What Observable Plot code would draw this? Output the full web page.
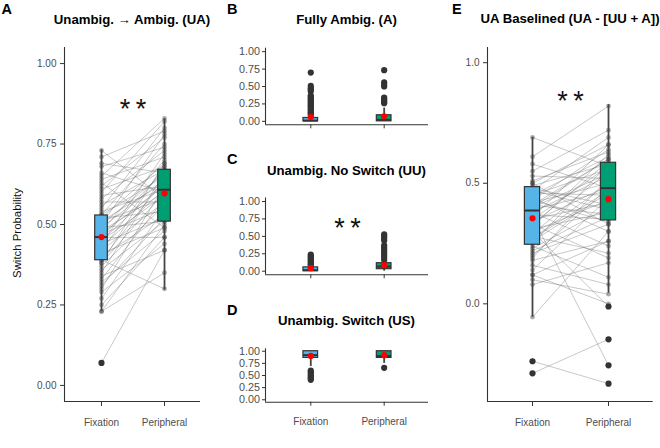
<!DOCTYPE html>
<html><head><meta charset="utf-8">
<script src="https://cdn.jsdelivr.net/npm/d3@7"></script>
<script src="https://cdn.jsdelivr.net/npm/@observablehq/plot@0.6"></script>
<style>
body{margin:0;background:#fff;font-family:"Liberation Sans",Arial,sans-serif;}
#root{position:relative;width:660px;height:448px;overflow:hidden;background:#fff;}
#root > svg, #root > .pnl{position:absolute;}
</style></head><body><div id="root"></div>
<script>
const categories = ["Fixation", "Peripheral"];
const fillColors = ["#56B4E9", "#009E73"];

// Panel A: paired switch probabilities (UA)
const uaFixation = [0.07,0.23,0.23,0.25,0.27,0.29,0.30,0.31,0.32,0.33,0.34,0.35,0.36,0.37,0.38,0.39,0.39,0.40,0.41,0.42,0.42,0.43,0.44,0.44,0.45,0.45,0.46,0.46,0.47,0.47,0.48,0.48,0.49,0.49,0.50,0.50,0.51,0.51,0.52,0.52,0.53,0.53,0.54,0.55,0.56,0.57,0.58,0.59,0.60,0.61,0.62,0.63,0.64,0.65,0.66,0.68,0.69,0.71,0.73,0.38];
const uaPeripheral = [0.42,0.35,0.50,0.46,0.55,0.44,0.62,0.52,0.48,0.58,0.42,0.66,0.51,0.56,0.60,0.30,0.64,0.53,0.49,0.68,0.57,0.61,0.72,0.52,0.63,0.59,0.46,0.67,0.62,0.55,0.70,0.60,0.64,0.51,0.66,0.78,0.58,0.63,0.69,0.54,0.65,0.75,0.61,0.80,0.67,0.57,0.73,0.62,0.82,0.68,0.77,0.49,0.71,0.83,0.60,0.74,0.66,0.79,0.58,0.69];

// Panel E: paired baselined values
const baseFixation = [-0.288,-0.238,0.36,0.30,0.12,-0.055,0.08,0.10,0.12,0.14,0.16,0.19,0.21,0.23,0.24,0.25,0.26,0.28,0.29,0.31,0.32,0.33,0.34,0.35,0.36,0.37,0.38,0.38,0.39,0.40,0.41,0.42,0.43,0.44,0.45,0.46,0.47,0.48,0.49,0.50,0.51,0.53,0.55,0.58,0.61,0.69,0.22,0.27,0.30,0.18,0.45,0.40,0.33,0.50,0.27,0.43,0.35,0.47,0.20,0.41];
const basePeripheral = [-0.147,-0.331,-0.255,-0.011,0.00,0.30,0.17,0.04,0.26,0.44,0.08,0.52,0.33,0.40,0.11,0.58,0.46,0.21,0.55,0.38,0.62,0.19,0.49,0.42,0.66,0.35,0.53,0.24,0.47,0.60,0.37,0.50,0.64,0.30,0.56,0.45,0.69,0.41,0.58,0.33,0.63,0.52,0.72,0.48,0.82,0.57,0.36,0.50,0.43,0.26,0.61,0.54,0.59,0.66,0.47,0.34,0.57,0.39,0.48,0.60];

// Box statistics [Fixation, Peripheral]
const statsA = [{q1:0.389,med:0.461,q3:0.528,lo:0.23,hi:0.732,mean:0.461},{q1:0.509,med:0.608,q3:0.67,lo:0.296,hi:0.829,mean:0.597}];
const statsB = [{q1:0.0,med:0.01,q3:0.048,lo:0.0,hi:0.07,mean:0.062},{q1:0.0,med:0.02,q3:0.087,lo:0.0,hi:0.19,mean:0.073}];
const statsC = [{q1:0.0,med:0.015,q3:0.055,lo:0.0,hi:0.06,mean:0.043},{q1:0.029,med:0.067,q3:0.115,lo:0.0,hi:0.15,mean:0.086}];
const statsD = [{q1:0.863,med:0.92,q3:1.0,lo:0.685,hi:1.0,mean:0.904},{q1:0.863,med:0.90,q3:1.0,lo:0.75,hi:1.0,mean:0.918}];
const statsE = [{q1:0.245,med:0.387,q3:0.484,lo:-0.055,hi:0.691,mean:0.355},{q1:0.346,med:0.48,q3:0.585,lo:0.044,hi:0.826,mean:0.434}];

// Outliers [Fixation], [Peripheral]
const outA = [[0.07],[]];
const outB = [[0.70,0.51,0.48,0.46,0.43,0.37,0.35,0.33,0.31,0.29,0.27,0.25,0.23,0.21,0.19,0.17,0.15,0.13,0.11,0.09],[0.735,0.56,0.53,0.50,0.34,0.32,0.30,0.28,0.26]];
const outC = [[0.24,0.22,0.20,0.18,0.16,0.14,0.12,0.10,0.08],[0.53,0.50,0.47,0.44,0.37,0.34,0.31,0.28,0.25,0.22,0.19,0.16]];
const outD = [[0.60,0.57,0.54,0.50,0.47,0.44,0.41],[0.658]];
const outE = [[-0.238,-0.288],[-0.011,-0.147,-0.255,-0.331]];

const root = document.getElementById("root");

function makePanel(cfg) {
  const statRows = cfg.stats.map((s, i) => ({...s, x: i + 1, fill: fillColors[i]}));
  const outRows = [...cfg.out[0].map(v => ({x: 1, v})), ...cfg.out[1].map(v => ({x: 2, v}))];
  const marks = [];
  marks.push(Plot.axisY({ticks: cfg.yticks, tickFormat: d3.format(cfg.yfmt), tickSize: cfg.yts, tickPadding: cfg.ytp, fontSize: cfg.fs, fill: "#4d4d4d", stroke: "#333", label: null}));
  marks.push(Plot.axisX({ticks: [1, 2], tickFormat: d => cfg.xlabels ? categories[d - 1] : "", tickSize: cfg.xts, tickPadding: 12, fontSize: 10, fill: "#4d4d4d", stroke: "#333", label: null}));
  marks.push(Plot.ruleX([cfg.xd[0]], {stroke: "#333", strokeWidth: 1.1}));
  marks.push(Plot.ruleY([cfg.yd[0]], {stroke: "#333", strokeWidth: 1.1}));
  if (cfg.pf) {
    const pairs = cfg.pf.map((f, i) => ({f, p: cfg.pp[i]}));
    marks.push(Plot.link(pairs, {x1: () => 1, y1: "f", x2: () => 2, y2: "p", stroke: "#666", strokeOpacity: 0.36, strokeWidth: 1}));
    const pts = [...cfg.pf.map(v => ({x: 1, v})), ...cfg.pp.map(v => ({x: 2, v}))];
    marks.push(Plot.dot(pts, {x: "x", y: "v", r: 2.4, fill: "#333", fillOpacity: 0.4}));
  }
  marks.push(Plot.ruleX(statRows, {x: "x", y1: "lo", y2: "hi", stroke: "#444", strokeWidth: 1.8}));
  marks.push(Plot.rect(statRows, {x1: d => d.x - 0.1, x2: d => d.x + 0.1, y1: "q1", y2: "q3", fill: "fill", stroke: "#333", strokeWidth: 1.2}));
  marks.push(Plot.ruleY(statRows, {y: "med", x1: d => d.x - 0.1, x2: d => d.x + 0.1, stroke: "#333", strokeWidth: 2}));
  marks.push(Plot.dot(outRows, {x: "x", y: "v", r: 3.1, fill: "#333"}));
  marks.push(Plot.dot(statRows, {x: "x", y: "mean", r: 3.1, fill: "red"}));
  if (cfg.stars != null) {
    marks.push(Plot.text([{x: 1.5, y: cfg.stars}], {x: "x", y: "y", text: () => "*\u2009*", fontSize: 27, fill: "#111", dy: 6.8, fontFamily: "Liberation Sans, Arial, sans-serif"}));
  }
  const svg = Plot.plot({
    width: cfg.width, height: cfg.height,
    marginLeft: cfg.mL, marginRight: cfg.mR, marginTop: cfg.mT, marginBottom: cfg.mB,
    x: {domain: cfg.xd},
    y: {domain: cfg.yd},
    color: {type: "identity"},
    style: {fontFamily: "Liberation Sans, Arial, sans-serif", background: "transparent", overflow: "visible"},
    marks
  });
  const wrap = document.createElement("div");
  wrap.className = "pnl";
  wrap.style.left = cfg.left + "px";
  wrap.style.top = cfg.top + "px";
  wrap.appendChild(svg);
  root.appendChild(wrap);
}

const fmt2 = ".2f", ticks5 = [0, 0.25, 0.5, 0.75, 1];
makePanel({left: 0, top: 30, width: 215, height: 410, mL: 64, mR: 15, mT: 17, mB: 39, xd: [0.413, 2.571], yd: [-0.05, 1.05], yticks: ticks5, yfmt: fmt2, yts: 4, ytp: 4, fs: 10, xts: 5, xlabels: true, stats: statsA, out: outA, pf: uaFixation, pp: uaPeripheral, stars: 0.88});
makePanel({left: 215, top: 30, width: 220, height: 110, mL: 50, mR: 7, mT: 17.7, mB: 15.7, xd: [0.383, 2.604], yd: [-0.05, 1.05], yticks: ticks5, yfmt: fmt2, yts: 3, ytp: 2.5, fs: 10.8, xts: 4, xlabels: false, stats: statsB, out: outB});
makePanel({left: 215, top: 180, width: 220, height: 110, mL: 50, mR: 7, mT: 17.5, mB: 15.8, xd: [0.383, 2.604], yd: [-0.05, 1.05], yticks: ticks5, yfmt: fmt2, yts: 3, ytp: 2.5, fs: 10.8, xts: 4, xlabels: false, stats: statsC, out: outC, stars: 0.71});
makePanel({left: 215, top: 330, width: 220, height: 115, mL: 50, mR: 7, mT: 18.3, mB: 43.3, xd: [0.383, 2.604], yd: [-0.05, 1.05], yticks: ticks5, yfmt: fmt2, yts: 3, ytp: 2.5, fs: 10.8, xts: 4, xlabels: true, stats: statsD, out: outD});
makePanel({left: 435, top: 30, width: 225, height: 410, mL: 52, mR: 7.3, mT: 17, mB: 39, xd: [0.408, 2.588], yd: [-0.405, 1.063], yticks: [0, 0.5, 1], yfmt: ".1f", yts: 4, ytp: 4, fs: 10, xts: 5, xlabels: true, stats: statsE, out: outE, pf: baseFixation, pp: basePeripheral, stars: 0.868});

// Overlay: panel letters, titles, y label
const panelLetters = [["A", 1.5, 14], ["B", 227, 14], ["C", 227, 163.5], ["D", 227, 315], ["E", 452, 14]];
const panelTitles = [["Unambig. \u2192 Ambig. (UA)", 132, 24], ["Fully Ambig. (A)", 346.5, 24], ["Unambig. No Switch (UU)", 346.5, 174.5], ["Unambig. Switch (US)", 346.5, 324.5], ["UA Baselined (UA - [UU + A])", 570, 23]];
const ov = d3.select(root).append("svg").attr("width", 660).attr("height", 448).style("left", "0px").style("top", "0px").style("pointer-events", "none").style("font-family", "Liberation Sans, Arial, sans-serif");
ov.selectAll("text.l").data(panelLetters).join("text").attr("class", "l").attr("x", d => d[1]).attr("y", d => d[2]).attr("font-size", 14.5).attr("font-weight", "bold").attr("fill", "#000").text(d => d[0]);
ov.selectAll("text.t").data(panelTitles).join("text").attr("class", "t").attr("x", d => d[1]).attr("y", d => d[2]).attr("text-anchor", "middle").attr("font-size", 13.2).attr("font-weight", "bold").attr("fill", "#000").text(d => d[0]);
ov.append("text").attr("transform", "translate(21,233) rotate(-90)").attr("text-anchor", "middle").attr("font-size", 11.4).attr("fill", "#111").text("Switch Probability");
</script></body></html>
